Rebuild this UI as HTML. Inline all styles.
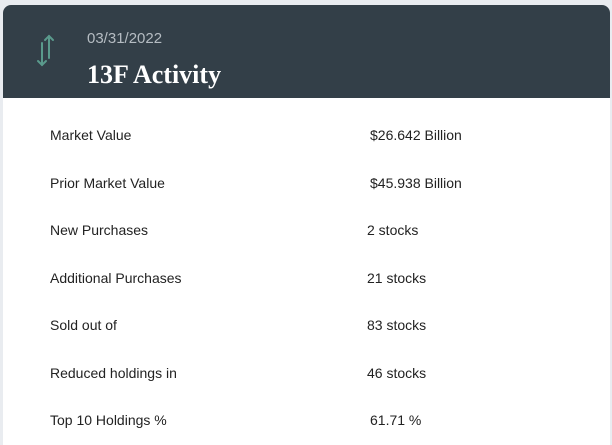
<!DOCTYPE html>
<html><head><meta charset="utf-8"><style>
html,body{margin:0;padding:0;width:612px;height:439px;overflow:hidden;background:#e9ecf0;font-family:"Liberation Sans",sans-serif;}
.card{position:absolute;left:3px;top:5px;width:607px;height:440px;background:#fff;border-radius:8px 8px 0 0;overflow:hidden;}
.hdr{position:absolute;left:0;top:0;width:607px;height:93px;background:#333f48;}
.date{position:absolute;left:84px;top:25px;color:#b5bcc2;font-size:15px;}
.title{position:absolute;left:84px;top:55px;color:#fff;font-family:"Liberation Serif",serif;font-weight:bold;font-size:26px;}
.row{position:absolute;font-size:14px;color:#222;}
</style></head><body>
<div class="card">
<div class="hdr">
<svg style="position:absolute;left:32px;top:28px" width="22" height="36" viewBox="0 0 22 36">
<g stroke="#5a9a8c" stroke-width="2" fill="none" stroke-linecap="round">
<line x1="14" y1="3" x2="14" y2="25"/><polyline points="10,7 14,3 18,7"/>
<line x1="7" y1="10" x2="7" y2="32"/><polyline points="3,28 7,32 11,28"/>
</g></svg>
<div class="date">03/31/2022</div>
<div class="title">13F Activity</div>
</div>
<div class="row" style="left:47px;top:122px">Market Value</div><div class="row" style="left:367px;top:122px">$26.642 Billion</div>
<div class="row" style="left:47px;top:170px">Prior Market Value</div><div class="row" style="left:367px;top:170px">$45.938 Billion</div>
<div class="row" style="left:47px;top:217px">New Purchases</div><div class="row" style="left:364px;top:217px">2 stocks</div>
<div class="row" style="left:47px;top:265px">Additional Purchases</div><div class="row" style="left:364px;top:265px">21 stocks</div>
<div class="row" style="left:47px;top:312px">Sold out of</div><div class="row" style="left:364px;top:312px">83 stocks</div>
<div class="row" style="left:47px;top:360px">Reduced holdings in</div><div class="row" style="left:364px;top:360px">46 stocks</div>
<div class="row" style="left:47px;top:407px">Top 10 Holdings %</div><div class="row" style="left:367px;top:407px">61.71 %</div>
</div>
</body></html>
